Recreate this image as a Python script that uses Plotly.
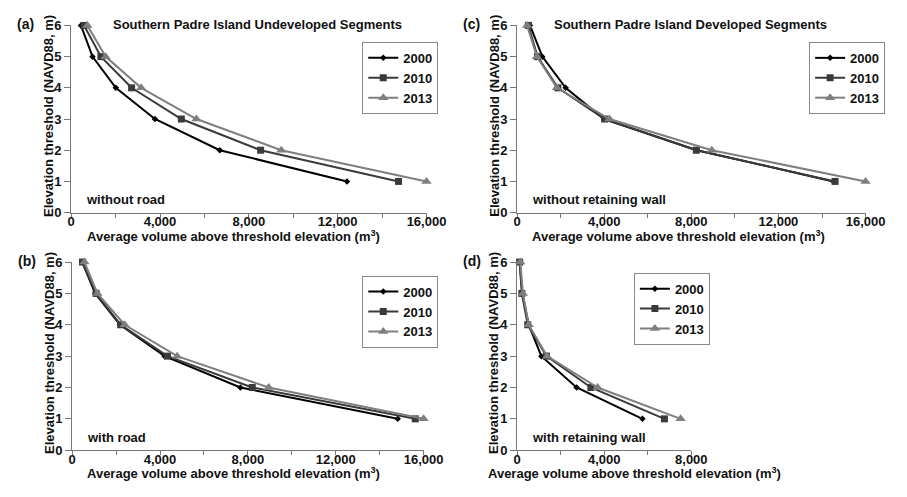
import plotly.graph_objects as go

W, H = 907, 497
elev = [6, 5, 4, 3, 2, 1]
years = ["2000", "2010", "2013"]

a_2000 = [440, 960, 2010, 3770, 6690, 12420]
a_2010 = [580, 1340, 2720, 4960, 8530, 14740]
a_2013 = [730, 1550, 3150, 5640, 9460, 16000]

c_2000 = [595, 1160, 2230, 3990, 8260, 14520]
c_2010 = [520, 940, 1875, 4020, 8230, 14600]
c_2013 = [460, 910, 1830, 4240, 8940, 16000]

b_2000 = [460, 1050, 2180, 4210, 7660, 14820]
b_2010 = [470, 1090, 2210, 4340, 8200, 15620]
b_2013 = [560, 1150, 2390, 4780, 8950, 16000]

d_2000 = [120, 240, 535, 1115, 2735, 5755]
d_2010 = [120, 220, 490, 1350, 3390, 6765]
d_2013 = [150, 270, 535, 1380, 3700, 7510]

panel_titles = ["Southern Padre Island Undeveloped Segments", "Southern Padre Island Developed Segments"]
panel_notes = ["without road", "without retaining wall", "with road", "with retaining wall"]
panel_letters = ["(a)", "(c)", "(b)", "(d)"]
x_title = "Average volume above threshold elevation (m<sup>3</sup>)"
y_title = "Elevation threshold (NAVD88, m)"

FONT = "Liberation Sans, Arial, sans-serif"
FS = 13
colors = ["#000000", "#3a3a3a", "#7f7f7f"]
symbols = ["diamond", "square", "triangle-up"]
msizes = [5, 7, 9]

# panel boxes in pixels: (left, right, top, bottom)
boxes = [(69, 434, 19, 212), (527, 885, 19, 212), (70, 431, 263, 457), (527, 706, 263, 457)]
xmax = [16000, 16000, 16000, 8000]
data = [[a_2000, a_2010, a_2013], [c_2000, c_2010, c_2013], [b_2000, b_2010, b_2013], [d_2000, d_2010, d_2013]]
legend_pos = [(368, 36), (827, 36), (368, 277), (647, 274)]
xtitle_cx = [236, 693, 236, 648]

fig = go.Figure()
layout = {}
annotations = []
for i in range(4):
    l, r, t, b = boxes[i]
    sfx = "" if i == 0 else str(i + 1)
    leg = "legend" if i == 0 else "legend" + str(i + 1)
    for k in range(3):
        fig.add_trace(go.Scatter(
            x=data[i][k], y=elev, name=years[k], mode="lines+markers",
            line=dict(color=colors[k], width=2),
            marker=dict(symbol=symbols[k], size=msizes[k], color=colors[k]),
            xaxis="x" + sfx, yaxis="y" + sfx, legend=leg, cliponaxis=False,
        ))
    layout["xaxis" + sfx] = dict(
        domain=[l / W, r / W], anchor="y" + sfx, range=[0, xmax[i]],
        dtick=4000, tickformat=",d", showgrid=False, zeroline=False,
        showline=True, linecolor="#777777", linewidth=1,
        ticks="outside", ticklen=4, tickcolor="#777777", ticklabelstandoff=-7,
        minor=dict(dtick=2000, ticks="outside", ticklen=4, tickcolor="#777777"),
        tickfont=dict(family=FONT, size=FS, color="#111111", weight="bold"),
        fixedrange=True,
    )
    layout["yaxis" + sfx] = dict(
        domain=[1 - b / H, 1 - t / H], anchor="x" + sfx, range=[0, 6],
        dtick=1, showgrid=False, zeroline=False,
        showline=True, linecolor="#777777", linewidth=1,
        ticks="outside", ticklen=6, tickcolor="#777777",
        tickfont=dict(family=FONT, size=FS, color="#111111", weight="bold"),
        fixedrange=True,
    )
    lx, ly = legend_pos[i]
    layout[leg] = dict(
        x=lx / W, y=1 - ly / H, xanchor="left", yanchor="top",
        bordercolor="#888888", borderwidth=1, bgcolor="white",
        font=dict(family=FONT, size=FS, color="#111111", weight="bold"),
        itemwidth=30, tracegroupgap=0,
    )
    annotations.append(dict(text=x_title, x=xtitle_cx[i] / W, y=1 - (b + 24) / H, xref="paper", yref="paper",
                            showarrow=False, xanchor="center", yanchor="middle",
                            font=dict(family=FONT, size=FS, color="#111111", weight="bold")))
    annotations.append(dict(text=y_title, x=(l - 24) / W, y=1 - ((t + b) / 2 - 3) / H, xref="paper", yref="paper",
                            showarrow=False, xanchor="center", yanchor="middle", textangle=-90,
                            font=dict(family=FONT, size=FS, color="#111111", weight="bold")))
    annotations.append(dict(text=panel_letters[i], x=(l - 58) / W, y=1 - (t - 1) / H, xref="paper", yref="paper",
                            showarrow=False, xanchor="left", yanchor="middle",
                            font=dict(family=FONT, size=14, color="#111111", weight="bold")))
    annotations.append(dict(text=panel_notes[i], x=(l + 13) / W, y=1 - (b - 13) / H, xref="paper", yref="paper",
                            showarrow=False, xanchor="left", yanchor="middle",
                            font=dict(family=FONT, size=FS, color="#111111", weight="bold")))

for j, cx in enumerate([260, 705]):
    annotations.append(dict(text=panel_titles[j], x=cx / W, y=1 - 18 / H, xref="paper", yref="paper",
                            showarrow=False, xanchor="center", yanchor="middle",
                            font=dict(family=FONT, size=FS, color="#111111", weight="bold")))

fig.update_layout(
    width=W, height=H, margin=dict(l=0, r=0, t=0, b=0),
    paper_bgcolor="white", plot_bgcolor="white",
    font=dict(family=FONT, size=FS, color="#111111", weight="bold"),
    annotations=annotations, **layout,
)
fig.write_html("out.html")
